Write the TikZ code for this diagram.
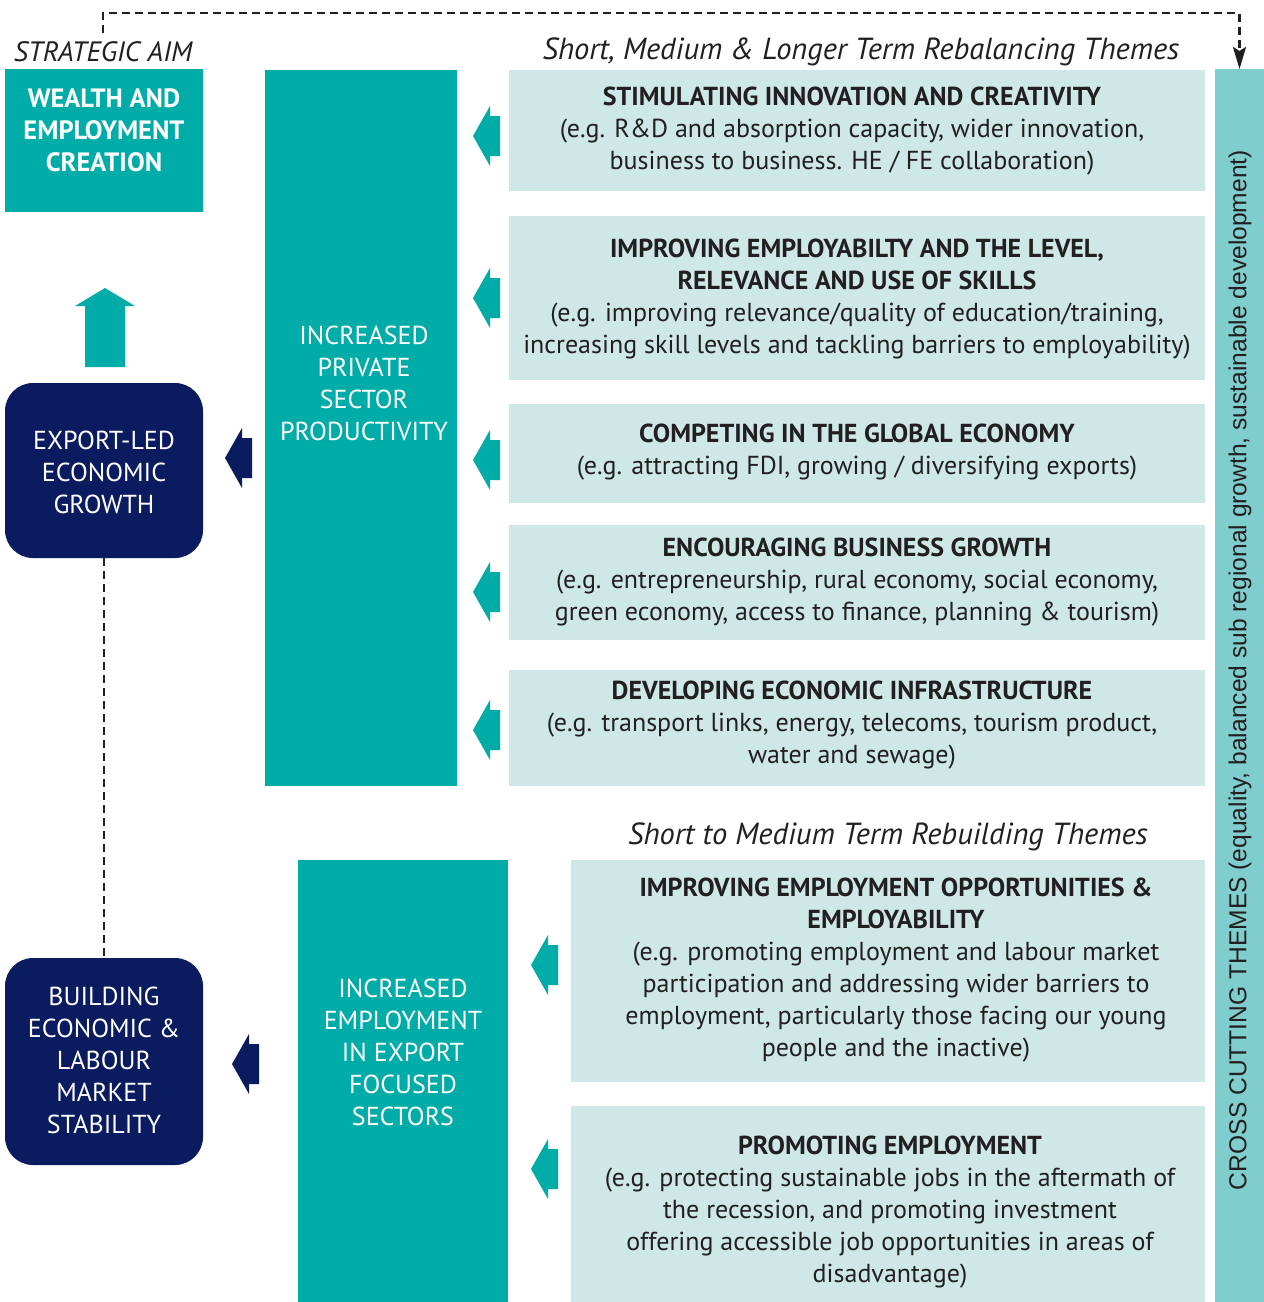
\documentclass[tikz,border=0pt]{standalone}
\usepackage{fontspec}
\setmainfont{PT Sans}
\newfontfamily\arialf{Liberation Sans}
\usetikzlibrary{arrows.meta}
\definecolor{tealc}{RGB}{0,172,167}
\definecolor{navyc}{RGB}{11,27,96}
\definecolor{lightc}{RGB}{205,232,231}
\definecolor{crossc}{RGB}{128,205,205}
\definecolor{txtc}{RGB}{35,31,32}
\tikzset{
  blk/.style={inner sep=0pt, outer sep=0pt, anchor=north west, draw=none},
  tealbox/.style={blk, fill=tealc},
  navybox/.style={blk, fill=navyc, rounded corners=28pt},
  lightbox/.style={blk, fill=lightc},
  crossbox/.style={blk, fill=crossc},
  txt/.style={inner sep=0pt, align=center, text=txtc, font=\fontsize{26}{32}\selectfont},
  wtxt/.style={txt, text=white},
  itxt/.style={txt, font=\fontsize{30.5}{32}\selectfont\itshape},
  dashline/.style={draw=txtc, line width=2.7pt, dash pattern=on 8pt off 5pt},
  pics/larrow/.style={code={
    \fill[#1] (0,0) -- (17,-30) -- (17,-20) -- (27,-20) -- (27,20) -- (17,20) -- (17,30) -- cycle;
  }},
}
\begin{document}
\begin{tikzpicture}[x=1pt,y=-1pt]
\useasboundingbox (0,0) rectangle (1264,1302);

% boxes
\node[tealbox, minimum width=198pt, minimum height=143pt] (wealth) at (5,69) {};
\node[navybox, minimum width=198pt, minimum height=175pt] (export) at (5,383) {};
\node[navybox, minimum width=198pt, minimum height=207pt] (building) at (5,958) {};
\node[tealbox, minimum width=192pt, minimum height=716pt] (col1) at (265,70) {};
\node[tealbox, minimum width=210pt, minimum height=442pt] (col2) at (298,860) {};
\node[lightbox, minimum width=696pt, minimum height=121pt] (b1) at (509,70) {};
\node[lightbox, minimum width=696pt, minimum height=164pt] (b2) at (509,216) {};
\node[lightbox, minimum width=696pt, minimum height=99pt] (b3) at (509,404) {};
\node[lightbox, minimum width=696pt, minimum height=115pt] (b4) at (509,525) {};
\node[lightbox, minimum width=696pt, minimum height=116pt] (b5) at (509,670) {};
\node[lightbox, minimum width=634pt, minimum height=222pt] (b6) at (571,860) {};
\node[lightbox, minimum width=634pt, minimum height=196pt] (b7) at (571,1106) {};
\node[crossbox, minimum width=49pt, minimum height=1233pt] (cross) at (1215,69) {};

% headings
\node[itxt, font=\fontsize{28}{32}\selectfont\itshape] (aim) at (103,52) {STRATEGIC AIM};
\node[itxt] (rebal) at (861,52) {Short, Medium \& Longer Term Rebalancing Themes};
\node[itxt] (rebuild) at (888,837) {Short to Medium Term Rebuilding Themes};

% box texts
\node[wtxt, font=\fontsize{26.5}{32}\selectfont\bfseries] (wealthT) at (104,130) {WEALTH AND\\EMPLOYMENT\\CREATION};
\node[wtxt] (exportT) at (104,472) {EXPORT-LED\\ECONOMIC\\GROWTH};
\node[wtxt] (buildingT) at (104,1060) {BUILDING\\ECONOMIC \&\\LABOUR\\MARKET\\STABILITY};
\node[wtxt] (col1T) at (364,383) {INCREASED\\PRIVATE\\SECTOR\\PRODUCTIVITY};
\node[wtxt] (col2T) at (403,1052) {INCREASED\\EMPLOYMENT\\IN EXPORT\\FOCUSED\\SECTORS};

\node[txt] (b1T) at (852,131) {\textbf{STIMULATING INNOVATION AND CREATIVITY}\\(e.g. R\&D and absorption capacity, wider innovation,\\business to business. HE / FE collaboration)};
\node[txt] (b2T) at (857,299) {\textbf{IMPROVING EMPLOYABILTY AND THE LEVEL,}\\\textbf{RELEVANCE AND USE OF SKILLS}\\(e.g. improving relevance/quality of education/training,\\increasing skill levels and tackling barriers to employability)};
\node[txt] (b3T) at (857,452) {\textbf{COMPETING IN THE GLOBAL ECONOMY}\\(e.g. attracting FDI, growing / diversifying exports)};
\node[txt] (b4T) at (857,582) {\textbf{ENCOURAGING BUSINESS GROWTH}\\(e.g. entrepreneurship, rural economy, social economy,\\green economy, access to finance, planning \& tourism)};
\node[txt] (b5T) at (852,725) {\textbf{DEVELOPING ECONOMIC INFRASTRUCTURE}\\(e.g. transport links, energy, telecoms, tourism product,\\water and sewage)};
\node[txt] (b6T) at (896,970) {\textbf{IMPROVING EMPLOYMENT OPPORTUNITIES \&}\\\textbf{EMPLOYABILITY}\\(e.g. promoting employment and labour market\\participation and addressing wider barriers to\\employment, particularly those facing our young\\people and the inactive)};
\node[txt] (b7T) at (890,1212) {\textbf{PROMOTING EMPLOYMENT}\\(e.g. protecting sustainable jobs in the aftermath of\\the recession, and promoting investment\\offering accessible job opportunities in areas of\\disadvantage)};

\node[txt, font=\arialf\fontsize{24.6}{28}\selectfont, rotate=90] (crossT) at (1240,670) {CROSS CUTTING THEMES (equality, balanced sub regional growth, sustainable development)};

% block arrows
\pic at (473,136) {larrow=tealc};
\pic at (473,298) {larrow=tealc};
\pic at (473,460) {larrow=tealc};
\pic at (473,592) {larrow=tealc};
\pic at (473,730) {larrow=tealc};
\pic at (531,965) {larrow=tealc};
\pic at (531,1169) {larrow=tealc};
\pic at (225,458) {larrow=navyc};
\pic at (232,1064) {larrow=navyc};
\fill[tealc] (105,288) -- (135,306) -- (125,306) -- (125,367) -- (85,367) -- (85,306) -- (75,306) -- cycle;

% dashed connectors
\coordinate (dstart) at (103,33);
\draw[dashline, -{Stealth[length=22pt,width=13pt,inset=4pt]}] (dstart) -- ++(0,-20) -| (cross.north);
\draw[dashline] (export.south) -- (building.north);
\end{tikzpicture}
\end{document}
